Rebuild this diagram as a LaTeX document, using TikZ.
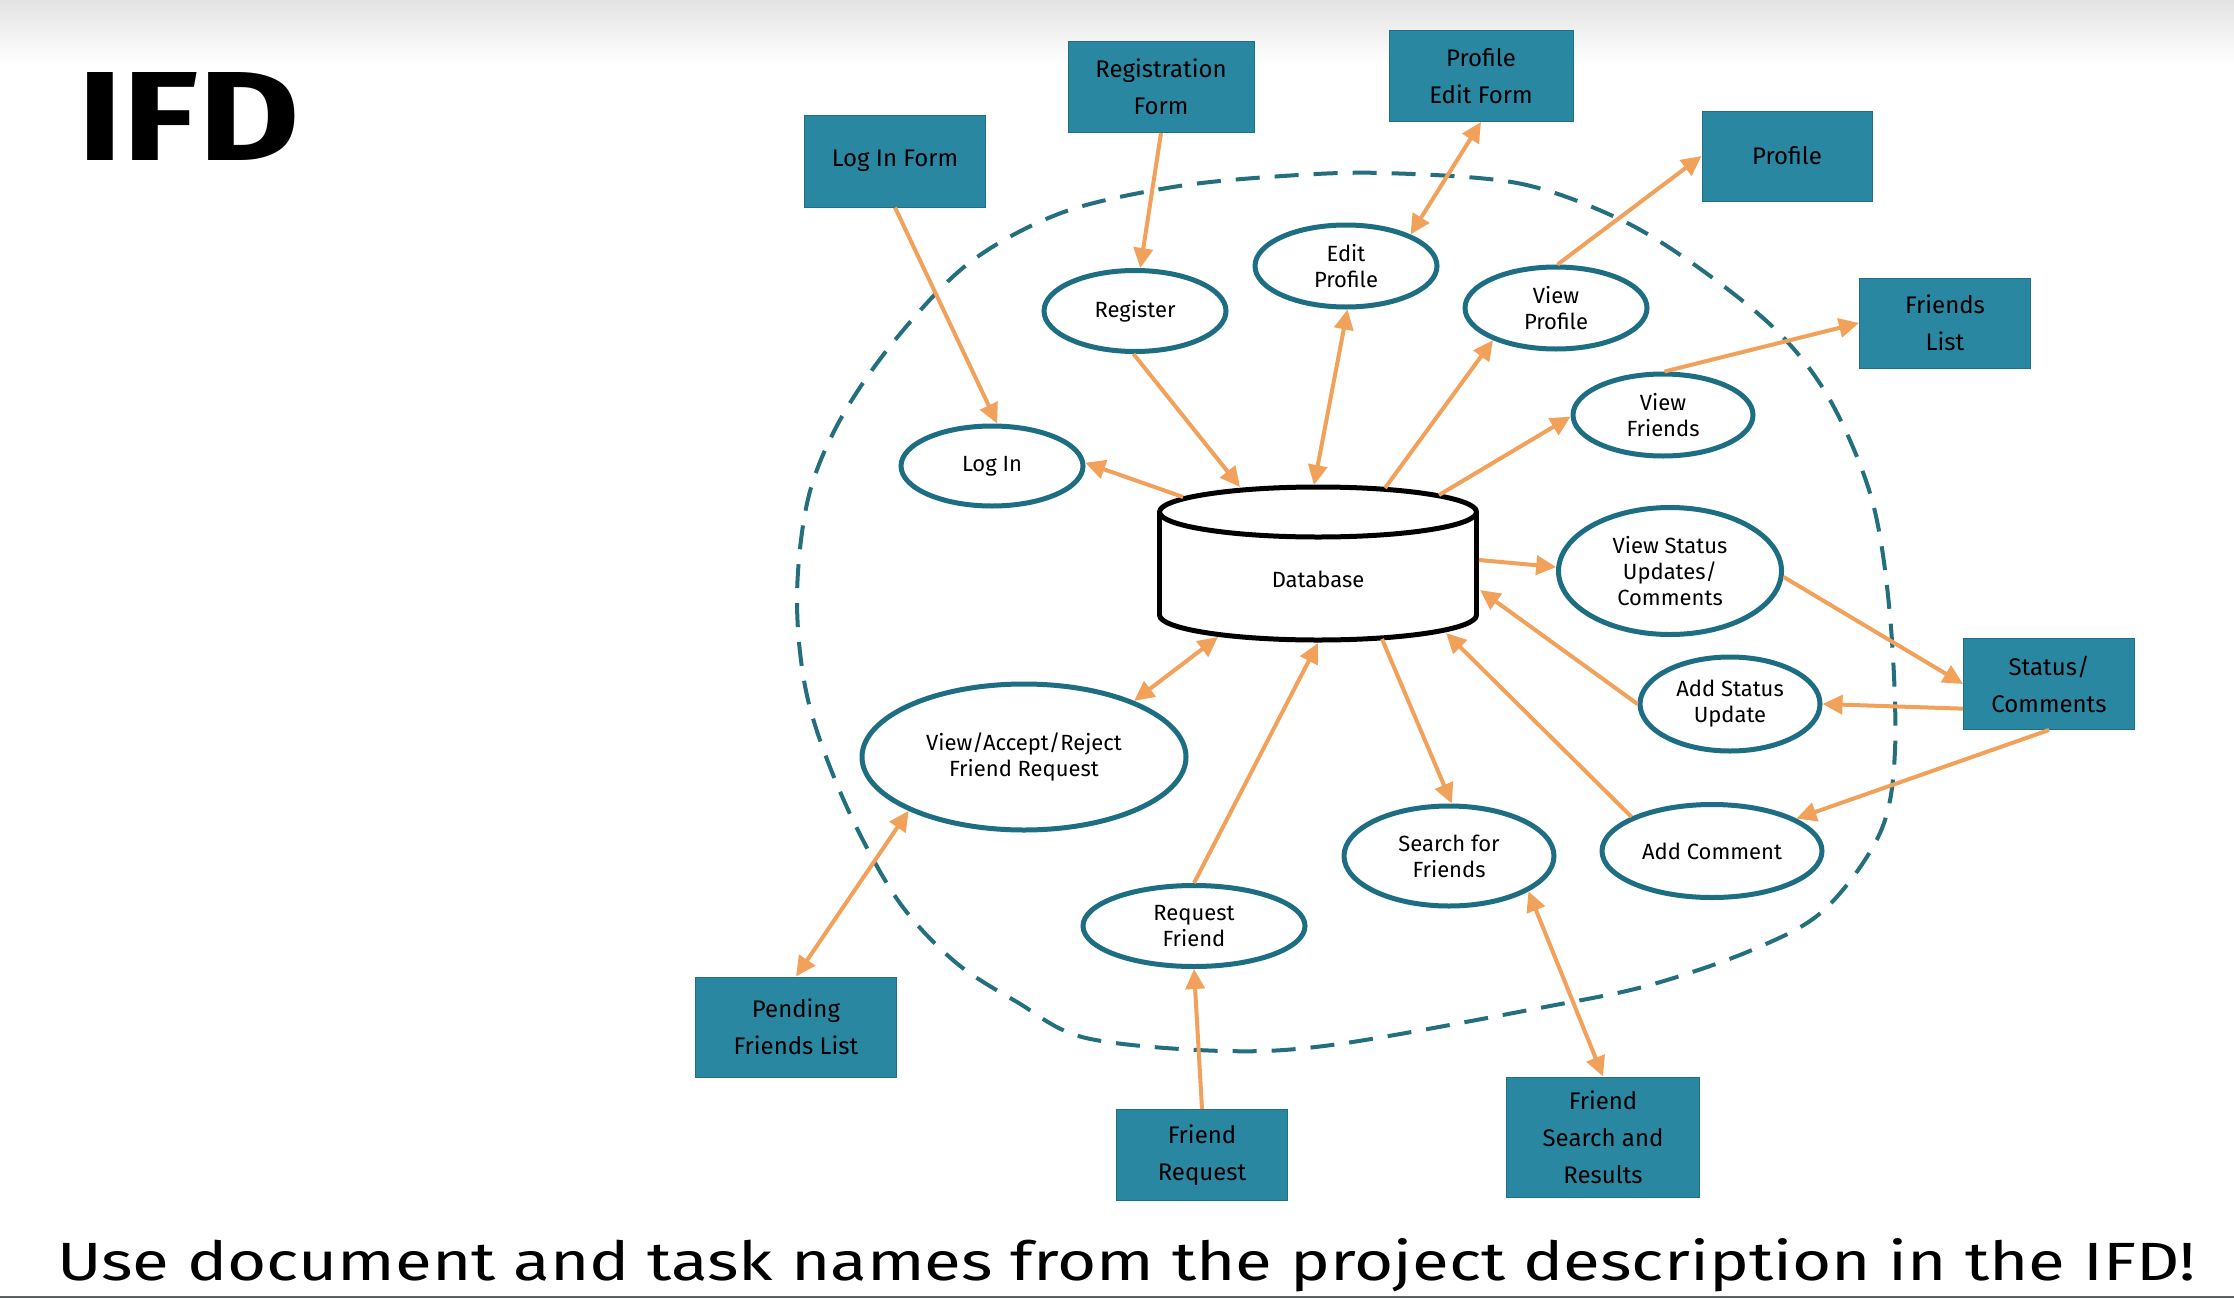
\documentclass[tikz,border=0pt]{standalone}
\usepackage{fontspec}
\setmainfont{Fira Sans}
\usetikzlibrary{shapes.geometric, arrows.meta, calc}

\definecolor{boxteal}{HTML}{2A87A1}
\definecolor{boxedge}{HTML}{1F6F86}
\definecolor{ellteal}{HTML}{1D6E83}
\definecolor{dashteal}{HTML}{236F7E}
\definecolor{flow}{HTML}{F2A15B}
\definecolor{edgegray}{HTML}{59616B}

\begin{document}
\begin{tikzpicture}[x=1pt, y=-1pt,
  store/.style={rectangle, fill=boxteal, draw=boxedge, line width=1pt, align=center,
    font=\fontsize{24}{37}\selectfont, text=black, inner sep=0pt},
  task/.style={ellipse, draw=ellteal, line width=5pt, fill=white, align=center,
    font=\fontsize{22}{26}\selectfont, inner sep=0pt},
  flowline/.style={color=flow, line width=4pt, -{Triangle[length=20pt,width=19pt]}},
  flowboth/.style={color=flow, line width=4pt,
    {Triangle[length=20pt,width=19pt]}-{Triangle[length=20pt,width=19pt]}},
  dbline/.style={draw=black, line width=5pt},
  boundary/.style={draw=dashteal, line width=4pt, dash pattern=on 24pt off 15pt},
]
% page and background
\useasboundingbox (0,0) rectangle (2234,1298);
\fill[white] (0,0) rectangle (2234,1298);
\shade[top color=black!11, bottom color=white] (0,0) rectangle (2234,65);
\fill[edgegray] (0,1295.5) rectangle (2234,1298);

% heading and footnote
\node[anchor=base west, inner sep=0pt] (title) at (77,160)
  {\resizebox{223pt}{88pt}{\bfseries IFD}};
\node[anchor=base west, inner sep=0pt] (note) at (57,1280)
  {\resizebox{2137pt}{42pt}{Use document and task names from the project description in the IFD!}};

% system boundary
\draw[boundary] plot[smooth cycle, tension=0.55] coordinates {
  (1383,173) (1517,183) (1615,217) (1692,263) (1776,330) (1830,400)
  (1872,500) (1890,616) (1895,750) (1880,833) (1824,910) (1752,950)
  (1650,985) (1550,1006) (1339,1044) (1224,1051) (1086,1038) (1017,1002)
  (954,961) (897,899) (845,803) (808,700) (797,600) (808,499) (840,420)
  (895,340) (969,263) (1061,213) (1173,187) (1283,176)};

% database cylinder
\node[minimum width=317pt, minimum height=153pt, inner sep=0pt] (db) at (1318,563) {};
\begin{scope}[shift={(db.center)}]
  \fill[white] (-158.5,-51) rectangle (158.5,52);
  \fill[white] (0,52) ellipse [x radius=158.5, y radius=25];
  \begin{scope}
    \clip (-170,52) rectangle (170,95);
    \draw[dbline] (0,52) ellipse [x radius=158.5, y radius=25];
  \end{scope}
  \draw[dbline] (-158.5,-51) -- (-158.5,52) (158.5,-51) -- (158.5,52);
  \draw[dbline, fill=white] (0,-51) ellipse [x radius=158.5, y radius=25];
\end{scope}
\node[font=\fontsize{22}{26}\selectfont] (dbtext) at ($(db.center)+(0,16)$) {Database};

% documents
\node[store, minimum width=181pt, minimum height=92pt] (loginform) at (895,161) {Log In Form};
\node[store, minimum width=186pt, minimum height=91pt] (regform) at (1161,87) {Registration\\Form};
\node[store, minimum width=184pt, minimum height=91pt] (editform) at (1481,76) {Profile\\Edit Form};
\node[store, minimum width=170pt, minimum height=90pt] (profile) at (1787,156) {Profile};
\node[store, minimum width=171pt, minimum height=90pt] (friendslist) at (1945,323) {Friends\\List};
\node[store, minimum width=171pt, minimum height=91pt] (statuscomm) at (2049,684) {Status/\\Comments};
\node[store, minimum width=193pt, minimum height=120pt] (fsr) at (1603,1137) {Friend\\Search and\\Results};
\node[store, minimum width=171pt, minimum height=91pt] (freq) at (1202,1155) {Friend\\Request};
\node[store, minimum width=201pt, minimum height=100pt] (pending) at (796,1027) {Pending\\Friends List};

% tasks
\node[task, minimum width=182pt, minimum height=81pt] (register) at (1135,311) {Register};
\node[task, minimum width=182pt, minimum height=82pt] (editprofile) at (1346,266) {Edit\\Profile};
\node[task, minimum width=182pt, minimum height=82pt] (viewprofile) at (1556,308) {View\\Profile};
\node[task, minimum width=182pt, minimum height=80pt] (login) at (992,466) {Log In};
\node[task, minimum width=180pt, minimum height=82pt] (viewfriends) at (1663,415) {View\\Friends};
\node[task, minimum width=223pt, minimum height=127pt] (viewstatus) at (1670,571) {View Status\\Updates/\\Comments};
\node[task, minimum width=180pt, minimum height=94pt] (addstatus) at (1730,704) {Add Status\\Update};
\node[task, minimum width=220pt, minimum height=93pt] (addcomment) at (1712,851) {Add Comment};
\node[task, minimum width=210pt, minimum height=100pt] (search) at (1449,856) {Search for\\Friends};
\node[task, minimum width=222pt, minimum height=81pt] (reqfriend) at (1194,926) {Request\\Friend};
\node[task, minimum width=324pt, minimum height=146pt] (var) at (1024,757) {View/Accept/Reject\\Friend Request};

% flows
\draw[flowline] (loginform.south) -- (login.83);
\draw[flowline] ($(db.center)+(-135,-66)$) -- (login.2);
\draw[flowline] (regform.south) -- (register.83);
\draw[flowline] (register.-92) -- ($(db.center)+(-78,-76)$);
\draw[flowboth] (editprofile.-88) -- ($(db.center)+(-4,-78)$);
\draw[flowboth] (editform.south) -- (editprofile.26);
\draw[flowline] ($(db.center)+(67,-75)$) -- (viewprofile.207);
\draw[flowline] (viewprofile.88) -- (profile.west);
\draw[flowline] ($(db.center)+(121,-68)$) -- (viewfriends.181);
\draw[flowline] (viewfriends.88) -- (friendslist.west);
\draw[flowline] ($(db.center)+(161,-3)$) -- (viewstatus.178);
\draw[flowline] (viewstatus.-3) -- (statuscomm.west);
\draw[flowline] (statuscomm.196) -- (addstatus.east);
\draw[flowline] (addstatus.west) -- ($(db.center)+(162,27)$);
\draw[flowline] (statuscomm.south) -- (addcomment.21);
\draw[flowline] (addcomment.157) -- ($(db.center)+(128,70)$);
\draw[flowline] ($(db.center)+(64,76)$) -- (search.87);
\draw[flowboth] (fsr.north) -- (search.-24);
\draw[flowline] (reqfriend.north) -- ($(db.center)+(0,80)$);
\draw[flowline] (freq.north) -- (reqfriend.south);
\draw[flowboth] (var.27) -- ($(db.center)+(-100,74)$);
\draw[flowboth] (pending.north) -- (var.205);
\end{tikzpicture}
\end{document}
